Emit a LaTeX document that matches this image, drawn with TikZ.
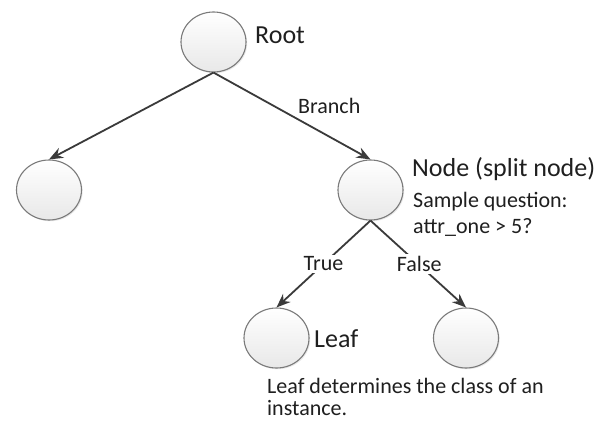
\documentclass[tikz,border=0pt]{standalone}
\usepackage{fontspec}
\setmainfont{Carlito}
\usetikzlibrary{shapes.geometric,arrows.meta,shadows}
\definecolor{edgegray}{HTML}{3A3A3A}
\definecolor{rimgray}{HTML}{7A7A7A}
\tikzset{
  treenode/.style={ellipse, minimum width=65pt, minimum height=60pt, inner sep=0pt,
    draw=rimgray, line width=1.1pt, top color=white, bottom color=black!9,
    drop shadow={shadow xshift=1.2pt, shadow yshift=-1.2pt, opacity=0.18}},
  treeedge/.style={draw=edgegray, line width=1.8pt, -{Stealth[length=14pt,width=11pt]}},
  bigtext/.style={font=\fontsize{26}{30}\selectfont, text=black!88, inner sep=0pt},
  smalltext/.style={font=\fontsize{22}{26}\selectfont, text=black!88, inner sep=0pt},
  edgelabel/.style={smalltext, fill=white, inner sep=2pt}
}
\begin{document}
\begin{tikzpicture}[x=1pt,y=-1pt]
\useasboundingbox[fill=white] (0,0) rectangle (611,421);
\node[treenode] (root) at (213.5,42) {};
\node[treenode] (left) at (49,190) {};
\node[treenode] (split) at (370.5,190) {};
\node[treenode] (leaf) at (276.5,338) {};
\node[treenode] (right) at (466,338) {};

\draw[treeedge] (root.south) -- (left.north);
\draw[treeedge] (root.south) -- (split.north);
\draw[treeedge] (split.south) -- node[edgelabel] (truelbl) {True} (leaf.north);
\draw[treeedge] (split.south) -- node[edgelabel, xshift=1pt] (falselbl) {False} (right.north);

\node[bigtext, anchor=base west] (rootlbl) at (255,43) {Root};
\node[smalltext, anchor=base west] (branchlbl) at (298,113) {Branch};
\node[bigtext, anchor=base west] (splitlbl) at (412,176) {Node (split node)};
\node[smalltext, anchor=base west] (q1) at (413,207) {Sample question:};
\node[smalltext, anchor=base west] (q2) at (413,233) {attr\_one > 5?};
\node[bigtext, anchor=base west] (leaflbl) at (314,347) {Leaf};
\node[smalltext, anchor=base west] (d1) at (267,393) {Leaf determines the class of an};
\node[smalltext, anchor=base west] (d2) at (267,415) {instance.};
\end{tikzpicture}
\end{document}
